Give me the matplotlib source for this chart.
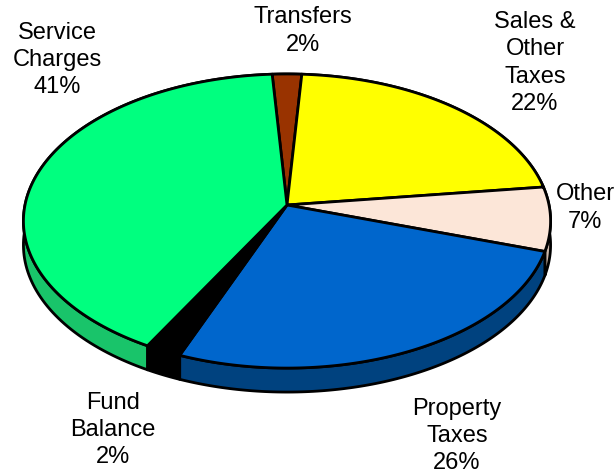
import matplotlib.pyplot as plt
import numpy as np
from matplotlib.patches import Polygon

# Revenue sources, in the order they run clockwise from 12 o'clock
labels = ['Transfers', 'Sales &\nOther\nTaxes', 'Other', 'Property\nTaxes',
          'Fund\nBalance', 'Service\nCharges']
shares = [2, 22, 7, 26, 2, 41]

top_colors = ['#993300', '#FFFF00', '#FCE6D8', '#0066CC', '#000000', '#00FF7F']
side_colors = ['#662200', '#B3B300', '#C9B5A8', '#00427F', '#000000', '#19C46A']
label_xy = [(303, 31), (535, 63), (585, 208), (457, 436), (113, 430), (57, 60)]

# pie geometry in pixel space (perspective-tilted disc)
cx, cy = 287, 205
rx, ry = 262, 145.3
persp = 0.109
depth = 24
start = -3.6


def project(theta, r=1.0):
    t = np.radians(theta)
    u = r * np.sin(t)
    v = r * np.cos(t)
    k = 1 + persp * v
    return cx + rx * u / k, cy - ry * v / k


fig = plt.figure(figsize=(6.16, 4.76), dpi=100)
ax = fig.add_axes([0, 0, 1, 1])
ax.set_xlim(0, 616)
ax.set_ylim(476, 0)
ax.axis('off')

bounds = start + 360 * np.concatenate([[0], np.cumsum(shares)]) / np.sum(shares)

# side walls first, tops drawn over them
for i in range(len(shares)):
    th = np.linspace(bounds[i], bounds[i + 1], 120)
    xs, ys = project(th)
    pts = np.column_stack([np.r_[xs, xs[::-1]], np.r_[ys, ys[::-1] + depth]])
    ax.add_patch(Polygon(pts, closed=True, fc=side_colors[i], ec='black',
                         lw=2.0, joinstyle='round'))

for i in range(len(shares)):
    th = np.linspace(bounds[i], bounds[i + 1], 120)
    xs, ys = project(th)
    pts = np.column_stack([np.r_[cx, xs], np.r_[cy, ys]])
    ax.add_patch(Polygon(pts, closed=True, fc=top_colors[i], ec='black',
                         lw=2.0, joinstyle='round'))

for lab, s, (x, y) in zip(labels, shares, label_xy):
    ax.text(x, y, f'{lab}\n{s}%', ha='center', va='center', fontsize=17,
            family='Liberation Sans', linespacing=1.32)

fig.savefig('out.png', dpi=100)
